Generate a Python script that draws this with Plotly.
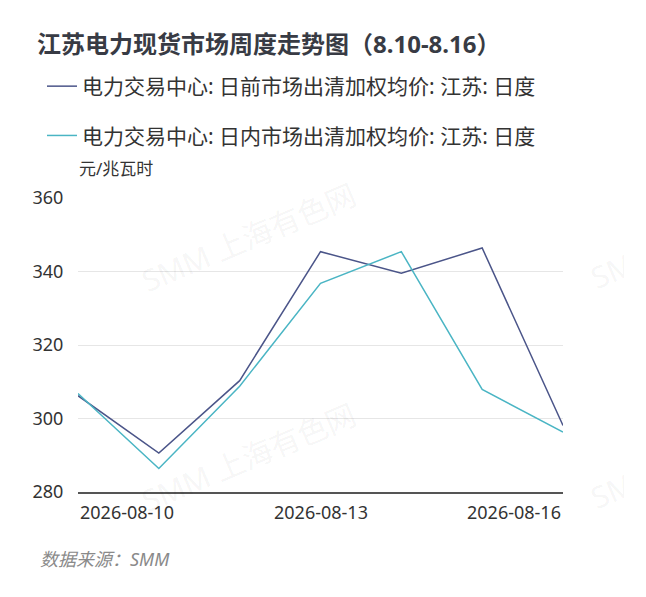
import plotly.graph_objects as go

# data
dates = ["2026-08-10", "2026-08-11", "2026-08-12", "2026-08-13",
         "2026-08-14", "2026-08-15", "2026-08-16"]
day_ahead = [306.2, 290.6, 310.3, 345.4, 339.5, 346.4, 298.1]
intraday = [306.8, 286.4, 308.8, 336.8, 345.4, 307.9, 296.3]
name_day_ahead = "电力交易中心: 日前市场出清加权均价: 江苏: 日度"
name_intraday = "电力交易中心: 日内市场出清加权均价: 江苏: 日度"
xtick_labels = ["2026-08-10", "2026-08-13", "2026-08-16"]
ytick_vals = [280, 300, 320, 340, 360]

# the page body adds 8px, so figure coords = page coords - 8
OFF = 8
W, H = 616, 589
L, R, T, B = 78 - OFF, 624 - 563, 198 - OFF, 597 - 492
font_main = "Noto Sans, Noto Sans CJK SC, sans-serif"

fig = go.Figure()
fig.add_trace(go.Scatter(x=dates, y=day_ahead, mode="lines", name=name_day_ahead,
                         legendgroup="a", line=dict(color="#4b5589", width=1.5)))
fig.add_trace(go.Scatter(x=dates, y=intraday, mode="lines", name=name_intraday,
                         legendgroup="b", line=dict(color="#4ab5c4", width=1.5)))

pw, ph = W - L - R, H - T - B


def px(x):
    return (x - OFF - L) / pw


def py(y):
    return (H - B - (y - OFF)) / ph


# watermark tiles (page coords of the tile centres)
for cx, cy in [(248, 237), (248, 457), (697, 234), (697, 454)]:
    fig.add_annotation(text="SMM 上海有色网", x=px(cx), y=py(cy), xref="paper", yref="paper",
                       showarrow=False, textangle=-23, xanchor="center", yanchor="middle",
                       font=dict(size=30, color="rgba(0,0,0,0.055)", family=font_main))

# x tick labels, edge-aligned like the original
anchors = ["left", "center", "right"]
for lab, anc in zip(xtick_labels, anchors):
    fig.add_annotation(text=lab, x=lab, y=0, xref="x", yref="paper", yanchor="top",
                       xanchor=anc, yshift=-6, showarrow=False,
                       font=dict(size=18, color="#333", family=font_main))

fig.add_annotation(text="元/兆瓦时", x=px(77), y=py(168), xref="paper", yref="paper",
                   showarrow=False, xanchor="left", yanchor="middle",
                   font=dict(size=17, color="#333", family=font_main))
fig.add_annotation(text="<i>数据来源：SMM</i>", x=px(38), y=py(559), xref="paper", yref="paper",
                   showarrow=False, xanchor="left", yanchor="middle",
                   font=dict(size=18, color="#8a8a8a", family=font_main))

fig.update_layout(
    width=W, height=H,
    margin=dict(l=L, r=R, t=T, b=B, autoexpand=False),
    paper_bgcolor="white", plot_bgcolor="white",
    title=dict(text="<b>江苏电力现货市场周度走势图（8.10-8.16）</b>", x=(37 - OFF) / W,
               xanchor="left", y=1 - (45 - OFF) / H, yanchor="middle",
               font=dict(size=24, color="#383b44", family=font_main)),
    legend=dict(xref="container", yref="container", x=(42 - OFF) / W,
                y=1 - (66 - OFF) / H, xanchor="left", yanchor="top",
                font=dict(size=21, color="#333", family=font_main),
                bgcolor="rgba(0,0,0,0)", itemwidth=30, tracegroupgap=19),
    xaxis=dict(range=[dates[0], dates[-1]], showgrid=False, showticklabels=False,
               showline=True, linecolor="#555", linewidth=1.5, ticks=""),
    yaxis=dict(range=[280, 360], tickvals=ytick_vals, showgrid=True, gridcolor="#e6e6e6",
               gridwidth=1, zeroline=False, ticks="outside", ticklen=10,
               tickcolor="rgba(0,0,0,0)",
               tickfont=dict(size=18, color="#333", family=font_main)),
)

fig.write_html("out.html")
